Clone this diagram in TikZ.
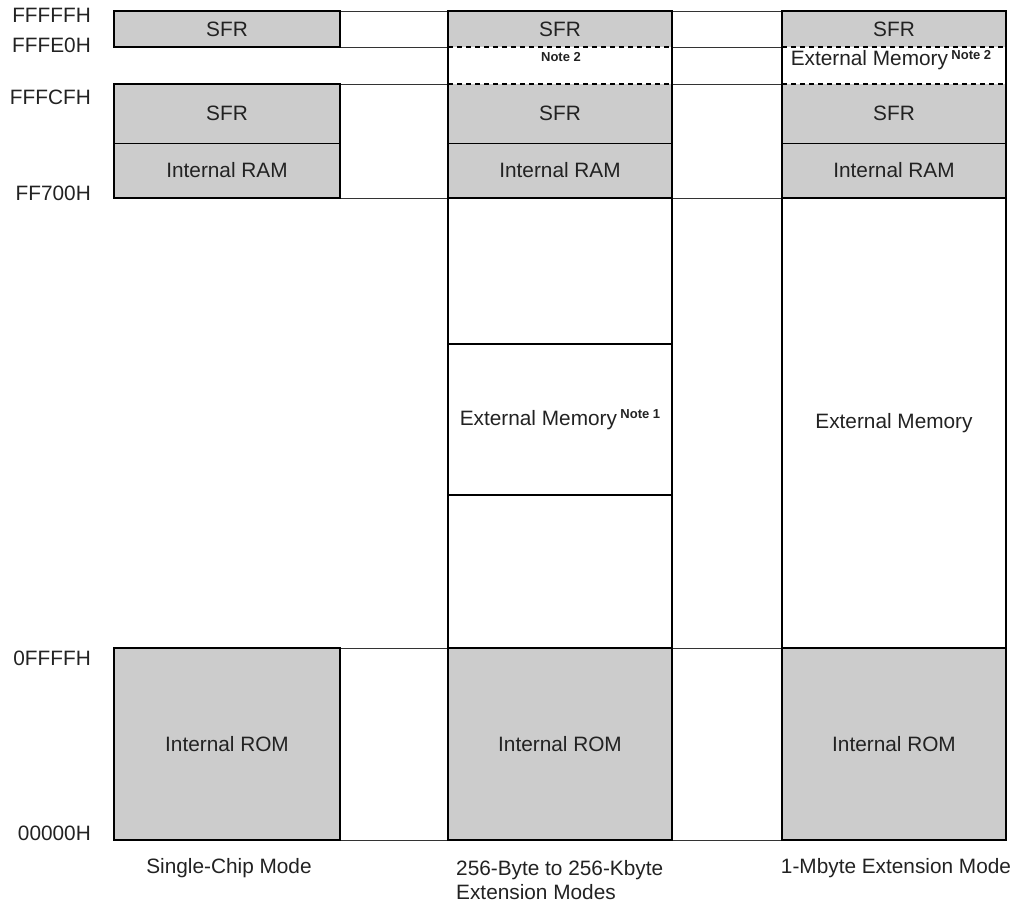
\documentclass[tikz,border=0pt]{standalone}
\usepackage{fontspec}
\setmainfont{Liberation Sans}
\usepackage{tikz}
\usetikzlibrary{positioning}
\definecolor{memGray}{HTML}{CCCCCC}
\definecolor{memLink}{HTML}{333333}
\definecolor{memInk}{HTML}{222222}
\newcommand{\noteMark}[1]{\raisebox{6.5pt}{\fontsize{13}{13}\selectfont\bfseries #1}}

\begin{document}
\begin{tikzpicture}[x=1pt,y=-1pt,
  every node/.style={font=\fontsize{20.8}{24}\selectfont, text=memInk},
  memFill/.style ={rectangle, fill=memGray, inner sep=0pt, outer sep=0pt, minimum width=224},
  memBlank/.style={memFill, fill=white},
  outerLine/.style={line width=2.6pt, line join=miter},
  innerLine/.style={line width=1pt},
  dashLine/.style ={line width=1.3pt, dash pattern=on 5pt off 4pt},
  linkLine/.style ={line width=0.8pt, color=memLink},
  adrText/.style  ={anchor=east, inner sep=0pt},
  noteText/.style ={font=\fontsize{13}{13}\selectfont\bfseries, inner sep=0pt},
]
\useasboundingbox (0,0) rectangle (1021,907);
% single-chip column
\node[memFill, minimum width=226, minimum height=36]  (aSFRtop) at (227,29)    {SFR};
\node[memFill, minimum width=226, minimum height=59]  (aSFR)    at (227,113.5) {SFR};
\node[memFill, minimum width=226, minimum height=55]  (aRAM)    at (227,170.5) {Internal RAM};
\node[memFill, minimum width=226, minimum height=192] (aROM)    at (227,744)   {Internal ROM};
% extension columns
\foreach \col/\xc in {b/560,c/894} {
  \node[memFill,  minimum height=36]  (\col SFRtop) at (\xc,29)    {SFR};
  \node[memBlank, minimum height=37]  (\col Gap)    at (\xc,65.5)  {};
  \node[memFill,  minimum height=59]  (\col SFR)    at (\xc,113.5) {SFR};
  \node[memFill,  minimum height=55]  (\col RAM)    at (\xc,170.5) {Internal RAM};
  \node[memFill,  minimum height=192] (\col ROM)    at (\xc,744)   {Internal ROM};
}
\node[memBlank, minimum height=146] (bExtA) at (560,271)   {};
\node[memBlank, minimum height=151] (bExtB) at (560,419.5) {External Memory\,\noteMark{Note 1}};
\node[memBlank, minimum height=153] (bExtC) at (560,571.5) {};
\node[memBlank, minimum height=450] (cExt)  at (894,423)   {External Memory};
\node[noteText] (bNote) at (561,57) {Note 2};
\node[inner sep=0pt] (cNote) at (891,60) {External Memory\,\noteMark{Note 2}};
% thin links between columns
\foreach \p/\q in {a/b,b/c} {
  \draw[linkLine] (\p SFRtop.north east) -- (\q SFRtop.north west);
  \draw[linkLine] (\p SFRtop.south east) -- (\q SFRtop.south west);
  \draw[linkLine] (\p SFR.north east)    -- (\q SFR.north west);
  \draw[linkLine] (\p RAM.south east)    -- (\q RAM.south west);
  \draw[linkLine] (\p ROM.north east)    -- (\q ROM.north west);
  \draw[linkLine] (\p ROM.south east)    -- (\q ROM.south west);
}
% dividers and outlines
\draw[innerLine] (aSFR.south west) -- (aSFR.south east);
\draw[outerLine] (aSFRtop.north west) rectangle (aSFRtop.south east);
\draw[outerLine] (aSFR.north west) rectangle (aRAM.south east);
\draw[outerLine] (aROM.north west) rectangle (aROM.south east);
\foreach \col in {b,c} {
  \draw[innerLine] (\col SFR.south west) -- (\col SFR.south east);
  \draw[dashLine]  (\col Gap.north west) -- (\col Gap.north east);
  \draw[dashLine]  (\col Gap.south west) -- (\col Gap.south east);
  \draw[outerLine] (\col RAM.south west) -- (\col RAM.south east);
  \draw[outerLine] (\col ROM.north west) -- (\col ROM.north east);
  \draw[outerLine] (\col SFRtop.north west) rectangle (\col ROM.south east);
}
\draw[outerLine] (bExtB.north west) -- (bExtB.north east);
\draw[outerLine] (bExtB.south west) -- (bExtB.south east);
% addresses
\foreach \nm/\yy/\lbl in {adrA/15/FFFFFH, adrB/45/FFFE0H, adrC/97/FFFCFH,
                          adrD/193/FF700H, adrE/658/0FFFFH, adrF/833/00000H} {
  \node[adrText] (\nm) at (91,\yy) {\lbl};
}
% mode captions
\node (aMode) at (229,868) {Single-Chip Mode};
\node[anchor=west, align=left, inner sep=0pt] (bMode) at (456,880) {256-Byte to 256-Kbyte\\Extension Modes};
\node (cMode) at (896,868) {1-Mbyte Extension Mode};
\end{tikzpicture}
\end{document}
